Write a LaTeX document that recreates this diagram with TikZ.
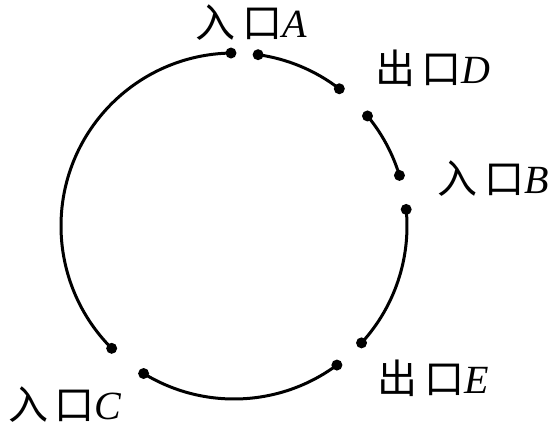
\documentclass[tikz,border=0pt]{standalone}
\usepackage{fontspec}
\setmainfont{Liberation Serif}
\newfontfamily\cjk{Noto Sans CJK SC}
\usetikzlibrary{calc,positioning}
\tikzstyle{track} = [draw, line width=3pt]

\begin{document}
\begin{tikzpicture}[
	x=1pt, y=1pt,
	dot/.style={
		circle,
		inner sep=0pt,
		minimum size=11pt,
		fill=black,
	},
	gate/.style={
		inner sep=0pt,
		font=\fontsize{40}{46}\selectfont,
	},
]
	\useasboundingbox (0,0) rectangle (553,429);
	\coordinate (O) at (234,203);

	% openings in the ring
	\node (a1) [dot] at ($(O)+(91:173pt)$) {};
	\node (a2) [dot] at ($(O)+(82:173pt)$) {};
	\node (d1) [dot] at ($(O)+(52.5:173pt)$) {};
	\node (d2) [dot] at ($(O)+(39.5:173pt)$) {};
	\node (b1) [dot] at ($(O)+(17:173pt)$) {};
	\node (b2) [dot] at ($(O)+(5.5:173pt)$) {};
	\node (e1) [dot] at ($(O)+(-42.5:173pt)$) {};
	\node (e2) [dot] at ($(O)+(-53.5:173pt)$) {};
	\node (c2) [dot] at ($(O)+(-121.5:173pt)$) {};
	\node (c1) [dot] at ($(O)+(-135:173pt)$) {};

	% ring segments
	\draw [track] (a1) arc[start angle=91, end angle=225, radius=173pt];
	\draw [track] (a2) arc[start angle=82, end angle=52.5, radius=173pt];
	\draw [track] (d2) arc[start angle=39.5, end angle=17, radius=173pt];
	\draw [track] (b2) arc[start angle=5.5, end angle=-42.5, radius=173pt];
	\draw [track] (e2) arc[start angle=-53.5, end angle=-121.5, radius=173pt];

	% labels
	\node (labA) [gate] at (251,406) {{\cjk 入\,口}\textit{A}};
	\node (labD) [gate] at (433,361) {{\cjk 出\,口}\textit{D}};
	\node (labB) [gate] at (493,250) {{\cjk 入\,口}\textit{B}};
	\node (labE) [gate] at (433,51) {{\cjk 出\,口}\textit{E}};
	\node (labC) [gate] at (65,24) {{\cjk 入\,口}\textit{C}};
\end{tikzpicture}
\end{document}
